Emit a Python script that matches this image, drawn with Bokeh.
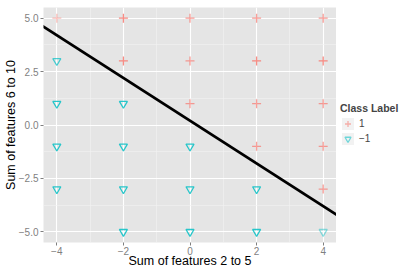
from bokeh.plotting import figure
from bokeh.layouts import row
from bokeh.models import (FixedTicker, Legend, LegendItem, Slope, ColumnDataSource, Range1d)
from bokeh.embed import file_html
from bokeh.resources import INLINE

# ---- data ----
pos_x = [-4, -2, 0, 2, 4, -2, 0, 2, 4, 0, 2, 4, 2, 4, 4]
pos_y = [5, 5, 5, 5, 5, 3, 3, 3, 3, 1, 1, 1, -1, -1, -3]
pos_n = [1, 3, 2, 2, 2, 3, 2, 3, 3, 2, 2, 2, 2, 2, 2]

neg_x = [-4, -4, -2, -4, -2, 0, -4, -2, 0, 2, -2, 0, 2, 4]
neg_y = [3, 1, 1, -1, -1, -1, -3, -3, -3, -3, -5, -5, -5, -5]
neg_n = [2, 3, 3, 3, 3, 3, 3, 3, 3, 3, 3, 3, 3, 1]

boundary_gradient = -1.0
boundary_intercept = 0.2

x_ticks = [-4, -2, 0, 2, 4]
x_tick_labels = ["\u22124", "\u22122", "0", "2", "4"]
x_minor = [-3, -1, 1, 3]
y_ticks = [-5.0, -2.5, 0.0, 2.5, 5.0]
y_tick_labels = ["\u22125.0", "\u22122.5", "0.0", "2.5", "5.0"]
y_minor = [-3.75, -1.25, 1.25, 3.75]

class_labels = ["1", "\u22121"]
legend_title = "Class Label"

BASE_ALPHA = 0.45
def alphas(ns):
    return [1 - (1 - BASE_ALPHA) ** n for n in ns]

FONT = "Liberation Sans"
POS_COLOR = "#F8766D"
NEG_COLOR = "#00BFC4"

p = figure(width=336, height=270, output_backend="svg", toolbar_location=None,
           x_range=Range1d(-4.4, 4.4), y_range=Range1d(-5.5, 5.5),
           min_border_top=7, min_border_left=0, min_border_bottom=0,
           min_border_right=0)
p.background_fill_color = "#E5E5E5"
p.border_fill_color = "white"
p.outline_line_color = None

xt = FixedTicker(ticks=x_ticks, minor_ticks=x_minor)
yt = FixedTicker(ticks=y_ticks, minor_ticks=y_minor)
p.xaxis.ticker = xt
p.yaxis.ticker = yt
p.xgrid.ticker = xt
p.ygrid.ticker = yt
p.xaxis.major_label_overrides = {t: l for t, l in zip(x_ticks, x_tick_labels)}
p.yaxis.major_label_overrides = {t: l for t, l in zip(y_ticks, y_tick_labels)}

p.grid.grid_line_color = "white"
p.grid.grid_line_width = 1.1
p.grid.minor_grid_line_color = "#F2F2F2"
p.grid.minor_grid_line_width = 0.6

p.axis.axis_line_color = None
p.axis.minor_tick_line_color = None
p.axis.major_tick_line_color = "#7F7F7F"
p.axis.major_tick_in = 0
p.axis.major_tick_out = 3
p.axis.major_label_text_color = "#7F7F7F"
p.axis.major_label_text_font = FONT
p.axis.major_label_text_font_size = "10px"
p.axis.major_label_standoff = 1
p.axis.axis_label_text_font = FONT
p.axis.axis_label_text_font_size = "12.5px"
p.axis.axis_label_text_font_style = "normal"
p.axis.axis_label_text_color = "black"
p.xaxis.major_label_standoff = 0
p.xaxis.axis_label_standoff = -4
p.yaxis.axis_label_standoff = -2
p.xaxis.axis_label = "Sum of features 2 to 5"
p.yaxis.axis_label = "Sum of features 6 to 10"

pos_src = ColumnDataSource(dict(x=pos_x, y=pos_y, a=alphas(pos_n)))
neg_src = ColumnDataSource(dict(x=neg_x, y=neg_y, a=alphas(neg_n)))

p.scatter("x", "y", source=pos_src, marker="cross", size=9,
          line_color=POS_COLOR, line_alpha="a", line_width=1.3)
p.scatter("x", "y", source=neg_src, marker="inverted_triangle", size=8,
          fill_color=None, line_color=NEG_COLOR, line_alpha="a", line_width=1.3)

p.add_layout(Slope(gradient=boundary_gradient, y_intercept=boundary_intercept,
                   line_color="black", line_width=2.6))

# ---- legend panel ----
lp = figure(width=79, height=270, output_backend="svg", toolbar_location=None,
            x_range=Range1d(0, 1), y_range=Range1d(0, 1),
            x_axis_type=None, y_axis_type=None,
            min_border_top=0, min_border_left=0, min_border_bottom=0, min_border_right=0)
lp.grid.visible = False
lp.outline_line_color = None
lp.background_fill_color = "white"
lp.border_fill_color = "white"

key_bg = lp.quad(left=[-5], right=[-4], top=[-4], bottom=[-5],
                 fill_color="#F2F2F2", line_color=None)
leg_pos = lp.scatter([-5], [-5], marker="cross", size=9, line_color=POS_COLOR,
                     line_alpha=BASE_ALPHA + 0.1, line_width=1.3)
leg_neg = lp.scatter([-5], [-5], marker="inverted_triangle", size=8, fill_color=None,
                     line_color=NEG_COLOR, line_alpha=BASE_ALPHA + 0.1, line_width=1.3)

legend = Legend(items=[LegendItem(label=class_labels[0], renderers=[key_bg, leg_pos]),
                       LegendItem(label=class_labels[1], renderers=[key_bg, leg_neg])],
                title=legend_title, location=(4, 96))
legend.title_text_font = FONT
legend.title_text_font_style = "bold"
legend.title_text_font_size = "10.5px"
legend.title_standoff = 2
legend.label_text_font = FONT
legend.label_text_font_size = "10px"
legend.glyph_width = 15
legend.glyph_height = 15
legend.label_height = 11
legend.label_standoff = 4
legend.spacing = -4
legend.padding = 0
legend.margin = 0
legend.border_line_color = None
legend.background_fill_alpha = 0
lp.add_layout(legend, "center")

layout = row(p, lp)
open("out.html", "w").write(file_html(layout, INLINE))
